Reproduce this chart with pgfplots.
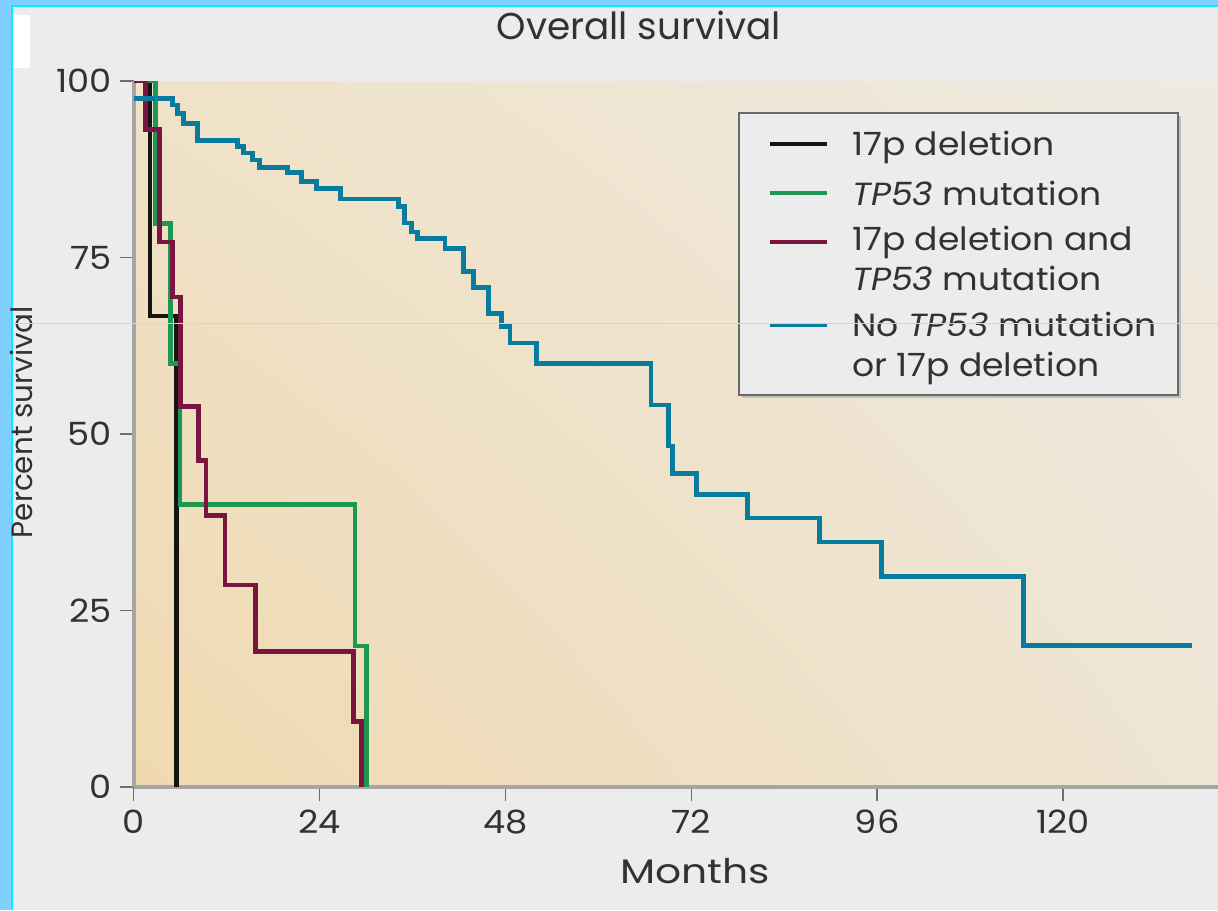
\documentclass[border=0pt]{standalone}
\usepackage{pgfplots}
\pgfplotsset{compat=1.18}
\usetikzlibrary{shadings}
\usepackage{fontspec}
\setmainfont{Poppins}
\definecolor{bgGrey}{RGB}{236,236,236}
\definecolor{frameBlue}{RGB}{128,208,255}
\definecolor{frameCyan}{RGB}{0,240,255}
\definecolor{guideLine}{RGB}{175,225,250}
\definecolor{txt}{RGB}{50,50,50}
\definecolor{axGrey}{RGB}{165,165,165}
\definecolor{tickGrey}{RGB}{110,110,110}
\definecolor{legFill}{RGB}{236,236,236}
\definecolor{legBorder}{RGB}{105,105,105}
\definecolor{cBlack}{RGB}{20,20,20}
\definecolor{cGreen}{RGB}{28,152,82}
\definecolor{cMaroon}{RGB}{122,20,64}
\definecolor{cBlue}{RGB}{8,124,158}
\definecolor{bgLL}{RGB}{240,217,176}
\definecolor{bgUL}{RGB}{239,226,200}
\definecolor{bgLR}{RGB}{238,229,212}
\definecolor{bgUR}{RGB}{238,234,226}
\begin{document}
\begin{tikzpicture}
% background and frame (1 px = 0.5 pt)
\begin{scope}[x=0.5pt,y=-0.5pt]
  \fill[bgGrey] (0,0) rectangle (1218,910);
  \fill[frameBlue] (0,0) rectangle (12,910);
  \fill[frameBlue] (0,0) rectangle (1218,5);
  \fill[frameCyan] (11,5) rectangle (13,910);
  \fill[frameCyan] (11,5) rectangle (1218,7);
  \fill[white] (13,15) rectangle (30,68);
\end{scope}
\begin{axis}[
  at={(66.8pt,-393.5pt)}, anchor=south west,
  scale only axis, width=542.2pt, height=353pt,
  xmin=0, xmax=140, ymin=0, ymax=100,
  axis x line*=bottom, axis y line*=left,
  axis line style={-, axGrey, line width=2pt},
  axis background/.style={shade, lower left=bgLL, upper left=bgUL, lower right=bgLR, upper right=bgUR},
  xtick={0,24,48,72,96,120}, ytick={0,25,50,75,100},
  tick align=outside, major tick length=7pt,
  tick style={tickGrey, line width=0.8pt},
  /pgf/number format/assume math mode=true,
  ticklabel style={font=\fontsize{16}{19}\selectfont, text=txt, xscale=1.1},
  xticklabel style={yshift=-1pt},
  title={Overall survival},
  title style={at={(rel axis cs:0.466,1.0424)}, anchor=base, yshift=0pt, font=\fontsize{18.7}{22}\selectfont, text=txt},
  xlabel={Months},
  every axis x label/.style={at={(rel axis cs:0.5177,-0.136)}, anchor=base, font=\fontsize{17}{20}\selectfont, text=txt, xscale=1.2},
  ylabel={Percent survival},
  every axis y label/.style={at={(rel axis cs:-0.0928,0.517)}, rotate=90, anchor=base, font=\fontsize{14.7}{18}\selectfont, text=txt},
  const plot,
]
\addplot[cBlack, line width=2.3pt] coordinates {(0,100) (2.1,66.7) (5.5,0)};
\addplot[cGreen, line width=2.3pt] coordinates {(0,100) (2.8,79.8) (4.8,60) (6.0,40) (28.6,20) (30.1,0)};
\addplot[cMaroon, line width=2.4pt] coordinates {(0,100) (1.5,93.1) (3.3,77.2) (5.0,69.4) (6.1,53.9) (8.4,46.3) (9.35,38.5) (11.8,28.6) (15.7,19.2) (28.4,9.25) (29.45,0)};
\addplot[cBlue, line width=2.4pt] coordinates {(0,97.5) (5.0,96.6) (5.7,95.4) (6.4,94.0) (8.3,91.6) (13.4,90.7) (14.2,89.8) (15.4,88.8) (16.3,87.7) (19.9,87.0) (21.7,85.8) (23.6,84.8) (26.7,83.3) (34.2,82.2) (35.0,79.9) (35.9,78.6) (36.7,77.7) (40.2,76.3) (42.6,73.0) (43.9,70.8) (45.8,67.1) (47.5,65.2) (48.6,62.9) (52.0,60.0) (66.8,54.1) (69.1,48.3) (69.6,44.4) (72.7,41.4) (79.3,38.1) (88.5,34.7) (96.6,29.8) (114.9,20.0) (136.6,20.0)};
\end{axis}
% legend (1 px = 0.5 pt)
\begin{scope}[x=0.5pt,y=-0.5pt, every node/.style={font=\fontsize{16}{19}\selectfont, text=txt, anchor=base west, inner sep=0pt, xscale=1.08}]
  \fill[black!25] (742,116) rectangle (1181,398);
  \draw[legBorder, line width=1pt, fill=legFill] (739,113) rectangle (1178,395);
  \draw[cBlack, line width=2pt] (770,144.3) -- (827,144.3);
  \draw[cGreen, line width=2pt] (770,193.3) -- (827,193.3);
  \draw[cMaroon, line width=2pt] (770,241.7) -- (827,241.7);
  \draw[cBlue, line width=2pt] (770,325) -- (827,325);
  \node at (852,155) {17p deletion};
  \node at (852,205) {\textit{TP53} mutation};
  \node at (852,250) {17p deletion and};
  \node at (852,290) {\textit{TP53} mutation};
  \node at (852,336.7) {No \textit{TP53} mutation};
  \node at (852,376.7) {or 17p deletion};
  \draw[guideLine, line width=0.5pt] (13,323.5) -- (1218,323.5);
\end{scope}
\pgfresetboundingbox
\path[use as bounding box] (0,0) rectangle (609pt,-455pt);
\end{tikzpicture}
\end{document}
